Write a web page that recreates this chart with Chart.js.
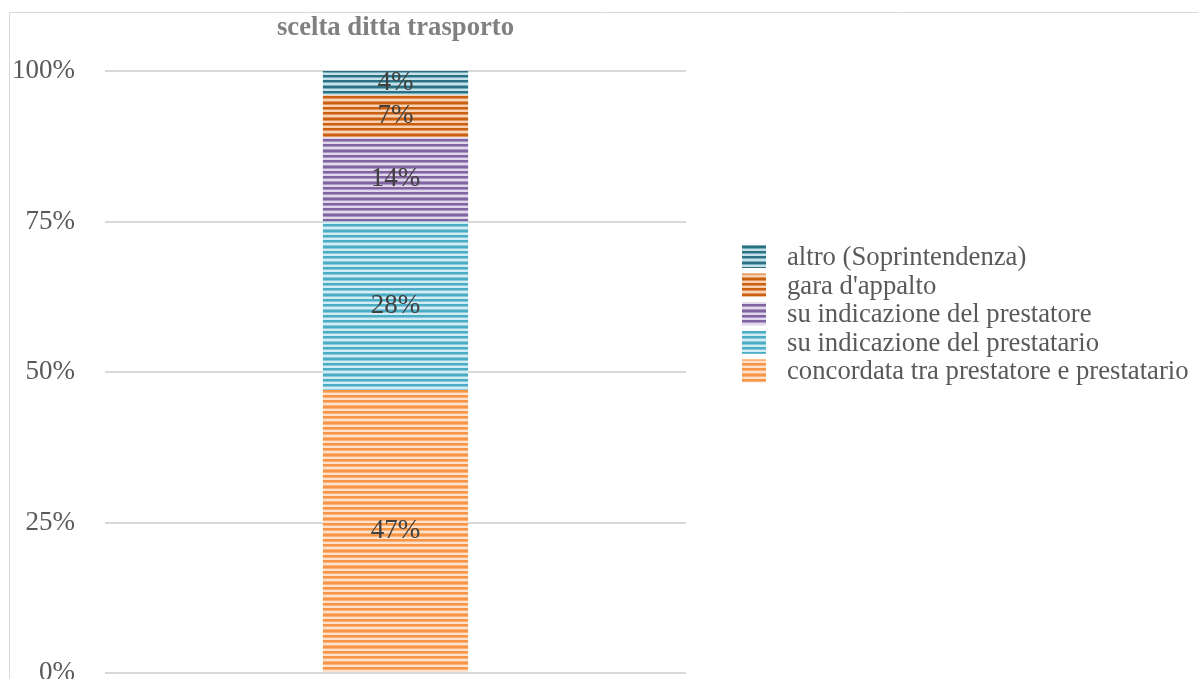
<!DOCTYPE html>
<html>
<head>
<meta charset="utf-8">
<script src="https://cdn.jsdelivr.net/npm/chart.js@4/dist/chart.umd.min.js"></script>
<style>
  html, body { margin: 0; padding: 0; background: #ffffff; overflow: hidden; }
  #wrap { position: absolute; left: 0; top: 0; width: 1198px; height: 720px; }
</style>
</head>
<body>
<div id="wrap"><canvas id="c" width="1198" height="720"></canvas></div>
<script>
// Chart data
const titleText = 'scelta ditta trasporto';
const categories = [''];
const seriesNames = [
  'concordata tra prestatore e prestatario',
  'su indicazione del prestatario',
  'su indicazione del prestatore',
  "gara d'appalto",
  'altro (Soprintendenza)'
];
const seriesValues = [47, 28, 14, 7, 4];
const yTicks = [0, 25, 50, 75, 100];

// Stripe colours per series: [dark, mid, light]
const stripeColors = [
  ['#F79646', '#F9B27A', '#FDE1CA'],
  ['#4BACC6', '#8CCADB', '#D3EBF2'],
  ['#8064A2', '#AC98C4', '#E0D8EA'],
  ['#C9600F', '#E49660', '#F8D2B5'],
  ['#2B7083', '#77AEBD', '#C7E1E8']
];

// Horizontal striped fill (three stripes in 16 px)
function stripes(cols) {
  const rows = 'ddmllm' + 'ddmll' + 'ddmll';
  const c = document.createElement('canvas');
  c.width = 8; c.height = rows.length;
  const g = c.getContext('2d');
  for (let i = 0; i < rows.length; i++) {
    g.fillStyle = rows[i] === 'd' ? cols[0] : rows[i] === 'm' ? cols[1] : cols[2];
    g.fillRect(0, i, 8, 1);
  }
  return g.createPattern(c, 'repeat');
}

const FONT = '"Liberation Serif", "Times New Roman", serif';

const frame = {
  id: 'frame',
  beforeDraw(chart) {
    const ctx = chart.ctx;
    ctx.save();
    ctx.strokeStyle = '#d9d9d9';
    ctx.lineWidth = 1;
    ctx.beginPath();
    ctx.moveTo(9.5, chart.height);
    ctx.lineTo(9.5, 12.5);
    ctx.lineTo(chart.width, 12.5);
    ctx.stroke();
    ctx.restore();
  }
};

const valueLabels = {
  id: 'valueLabels',
  afterDatasetsDraw(chart) {
    const ctx = chart.ctx;
    ctx.save();
    ctx.font = '27px ' + FONT;
    ctx.fillStyle = '#404040';
    ctx.textAlign = 'center';
    ctx.textBaseline = 'middle';
    chart.data.datasets.forEach((ds, i) => {
      const meta = chart.getDatasetMeta(i);
      meta.data.forEach((el, j) => {
        const p = el.getProps(['x', 'y', 'base'], true);
        ctx.fillText(ds.data[j] + '%', p.x, (p.y + p.base) / 2);
      });
    });
    ctx.restore();
  }
};

const sideLegend = {
  id: 'sideLegend',
  afterDraw(chart) {
    const ctx = chart.ctx;
    ctx.save();
    ctx.font = '26.7px ' + FONT;
    ctx.textBaseline = 'middle';
    ctx.textAlign = 'left';
    const items = chart.data.datasets.slice().reverse();
    items.forEach((ds, i) => {
      const cy = 257 + i * 28.6;
      ctx.fillStyle = ds.backgroundColor;
      ctx.fillRect(742, cy - 12, 24, 23);
      ctx.fillStyle = '#595959';
      ctx.fillText(ds.label, 787, cy + 1);
    });
    ctx.restore();
  }
};

new Chart(document.getElementById('c'), {
  type: 'bar',
  data: {
    labels: categories,
    datasets: seriesNames.map((name, i) => ({
      label: name,
      data: [seriesValues[i]],
      backgroundColor: stripes(stripeColors[i]),
      borderWidth: 0,
      barPercentage: 1,
      categoryPercentage: 0.25
    }))
  },
  options: {
    responsive: false,
    animation: false,
    layout: { padding: { top: 12, left: 0, right: 512, bottom: 47 } },
    plugins: {
      legend: { display: false },
      tooltip: { enabled: false },
      title: {
        display: true,
        text: titleText,
        fullSize: false,
        color: '#808080',
        font: { family: FONT, size: 26.7, weight: 'bold' },
        padding: { top: 0, bottom: 27 }
      }
    },
    scales: {
      x: { stacked: true, display: false },
      y: {
        stacked: true,
        min: 0,
        max: 100,
        afterFit(scale) { scale.width = 105; },
        afterBuildTicks(scale) { scale.ticks = yTicks.map(v => ({ value: v })); },
        border: { display: false },
        grid: { color: '#d9d9d9', lineWidth: 2, drawTicks: false },
        ticks: {
          padding: 30,
          color: '#595959',
          font: { family: FONT, size: 27 },
          callback: v => v + '%'
        }
      }
    }
  },
  plugins: [frame, valueLabels, sideLegend]
});
</script>
</body>
</html>
